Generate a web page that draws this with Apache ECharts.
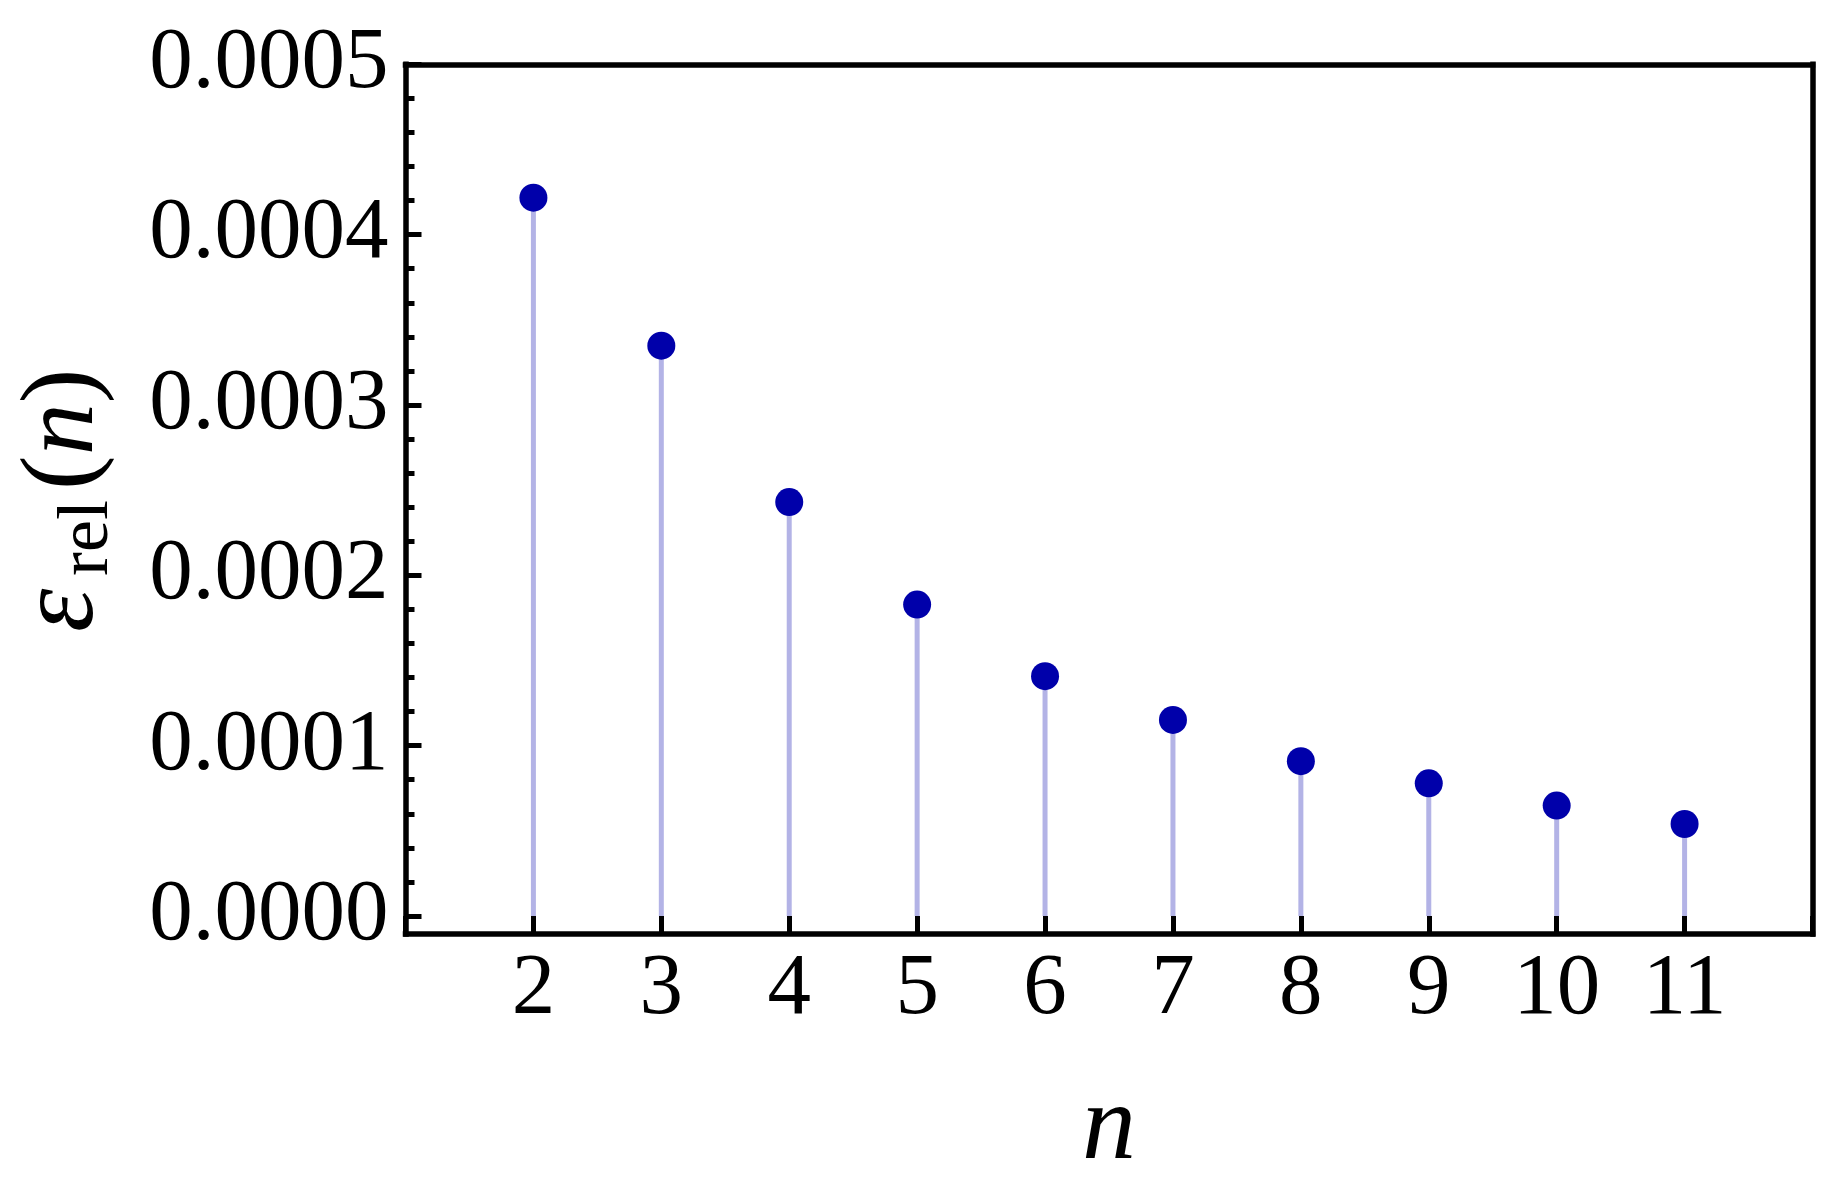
<!DOCTYPE html>
<html>
<head>
<meta charset="utf-8">
<script src="https://cdn.jsdelivr.net/npm/echarts@6/dist/echarts.min.js"></script>
<style>
html,body{margin:0;padding:0;background:#fff;}
#chart{width:1836px;height:1193px;}
</style>
</head>
<body>
<div id="chart"></div>
<script>
// ---- data ----
const nValues = [2, 3, 4, 5, 6, 7, 8, 9, 10, 11];
const relErr = [4.217e-4, 3.348e-4, 2.430e-4, 1.828e-4, 1.408e-4, 1.151e-4, 0.909e-4, 0.779e-4, 0.648e-4, 0.540e-4];
const xTickLabels = ['2', '3', '4', '5', '6', '7', '8', '9', '10', '11'];
const yTickValues = [0, 0.0001, 0.0002, 0.0003, 0.0004, 0.0005];

const points = nValues.map((n, i) => [n, relErr[i]]);
const FONT = 'Liberation Serif';

const chart = echarts.init(document.getElementById('chart'), null, {renderer: 'canvas'});

const frameLine = {show: true, onZero: false, lineStyle: {color: '#000', width: 5.5, cap: 'square'}};
const frameAxis = (pos) => ({
  gridIndex: 1, type: 'value', min: 0, max: 1, position: pos,
  axisLine: frameLine, axisTick: {show: false}, axisLabel: {show: false},
  splitLine: {show: false}, silent: true
});

const option = {
  backgroundColor: '#ffffff',
  animation: false,
  grid: [
    {left: 405.5, right: 23.5, top: 64.3, bottom: 277},
    {left: 405.5, right: 23.5, top: 64.3, bottom: 259}
  ],
  xAxis: [
    {
      gridIndex: 0, type: 'value', min: 1, max: 12, interval: 1,
      axisLine: {show: false, onZero: false},
      axisTick: {show: true, inside: false, length: 16, lineStyle: {color: '#000', width: 5}},
      axisLabel: {
        color: '#000', fontFamily: FONT, fontSize: 87, margin: 31,
        formatter: v => { const i = nValues.indexOf(v); return i >= 0 ? xTickLabels[i] : ''; }
      },
      splitLine: {show: false},
      name: 'n', nameLocation: 'middle', nameGap: 160,
      nameTextStyle: {color: '#000', fontFamily: FONT, fontStyle: 'italic', fontSize: 108}
    },
    frameAxis('bottom'),
    frameAxis('top')
  ],
  yAxis: [
    {
      gridIndex: 0, type: 'value', min: 0, max: 0.0005, interval: 0.0001,
      axisLine: {show: false, onZero: false},
      axisTick: {show: true, inside: true, length: 16, lineStyle: {color: '#000', width: 5}},
      minorTick: {show: true, splitNumber: 5, length: 9, lineStyle: {color: '#000', width: 5}},
      axisLabel: {
        color: '#000', fontFamily: FONT, fontSize: 87, margin: 17,
        formatter: v => v.toFixed(4)
      },
      splitLine: {show: false}, minorSplitLine: {show: false}
    },
    frameAxis('left'),
    frameAxis('right')
  ],
  series: [
    {
      type: 'bar', xAxisIndex: 0, yAxisIndex: 0, data: points,
      barWidth: 5, itemStyle: {color: '#b3b3e6'}, silent: true, z: 1
    },
    {
      type: 'scatter', xAxisIndex: 0, yAxisIndex: 0, data: points,
      symbol: 'circle', symbolSize: 28, itemStyle: {color: '#0000aa', opacity: 1}, z: 3
    }
  ],
  graphic: [
    {type: 'text', x: 63, y: 632, rotation: Math.PI / 2,
     style: {text: 'ε', fontFamily: FONT, fontStyle: 'italic', fontSize: 110, fill: '#000', align: 'left', verticalAlign: 'middle'}},
    {type: 'text', x: 88, y: 576, rotation: Math.PI / 2,
     style: {text: 'rel', fontFamily: FONT, fontSize: 72, fill: '#000', align: 'left', verticalAlign: 'middle'}},
    {type: 'text', x: 65, y: 490, rotation: Math.PI / 2,
     style: {text: '({i|n})', fontFamily: FONT, fontSize: 104, fill: '#000', align: 'left', verticalAlign: 'middle',
             rich: {i: {fontFamily: FONT, fontStyle: 'italic', fontSize: 104, fill: '#000'}}}}
  ]
};
chart.setOption(option);
</script>
</body>
</html>
